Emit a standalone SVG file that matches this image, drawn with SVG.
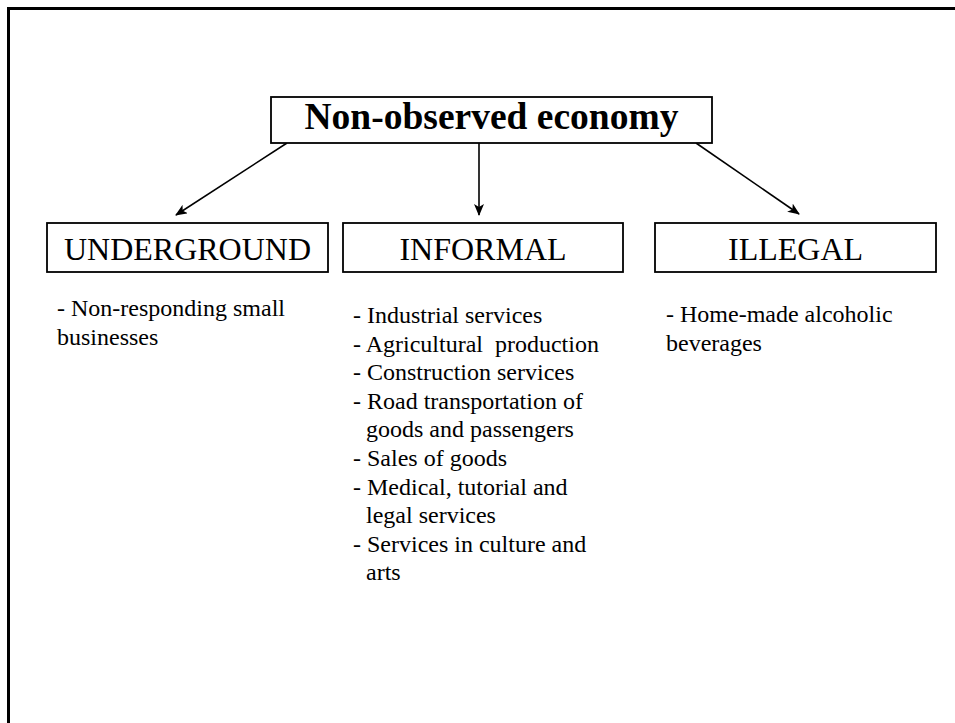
<svg xmlns="http://www.w3.org/2000/svg" width="955" height="723" viewBox="0 0 955 723">
<style>
.box{fill:#fff;stroke:#000;stroke-width:1.8}
.t{font-family:"Liberation Serif","Times New Roman",serif;fill:#000}
.title{font-size:37.5px;font-weight:bold}
.cat{font-size:32px}
.li{font-size:24px}
.conn{stroke:#000;stroke-width:1.6;fill:none;marker-end:url(#ah)}
</style>
<defs>
<marker id="ah" viewBox="0 0 12 10" refX="11" refY="5" markerWidth="12" markerHeight="10" markerUnits="userSpaceOnUse" orient="auto">
<path d="M0,0 L12,5 L0,10 L3,5 Z" fill="#000"/>
</marker>
</defs>
<rect x="0" y="0" width="955" height="723" fill="#fff"/>
<rect x="8.5" y="8.5" width="960" height="730" fill="none" stroke="#000" stroke-width="3"/>
<g id="connectors">
<line class="conn" x1="287" y1="143" x2="176" y2="215"/>
<line class="conn" x1="479" y1="143" x2="479" y2="215"/>
<line class="conn" x1="696" y1="143" x2="799" y2="214"/>
</g>
<g id="root">
<rect class="box" x="271" y="97" width="441" height="46"/>
<text class="t title" x="491.5" y="129" text-anchor="middle">Non-observed economy</text>
</g>
<g id="underground">
<rect class="box" x="47" y="223" width="281" height="49"/>
<text class="t cat" x="187.5" y="260" text-anchor="middle">UNDERGROUND</text>
</g>
<g id="informal">
<rect class="box" x="343" y="223" width="280" height="49"/>
<text class="t cat" x="483" y="260" text-anchor="middle">INFORMAL</text>
</g>
<g id="illegal">
<rect class="box" x="655" y="223" width="281" height="49"/>
<text class="t cat" x="795.5" y="260" text-anchor="middle">ILLEGAL</text>
</g>
<g id="underground-list" class="t li">
<text x="57" y="316">- Non-responding small</text>
<text x="57" y="345">businesses</text>
</g>
<g id="informal-list" class="t li">
<text x="353" y="323">- Industrial services</text>
<text x="353" y="351.6" xml:space="preserve">- Agricultural  production</text>
<text x="353" y="380.2">- Construction services</text>
<text x="353" y="408.8">- Road transportation of</text>
<text x="366" y="437.4">goods and passengers</text>
<text x="353" y="466">- Sales of goods</text>
<text x="353" y="494.6">- Medical, tutorial and</text>
<text x="366" y="523.2">legal services</text>
<text x="353" y="551.8">- Services in culture and</text>
<text x="366" y="580.4">arts</text>
</g>
<g id="illegal-list" class="t li">
<text x="666" y="322">- Home-made alcoholic</text>
<text x="666" y="351">beverages</text>
</g>
</svg>
